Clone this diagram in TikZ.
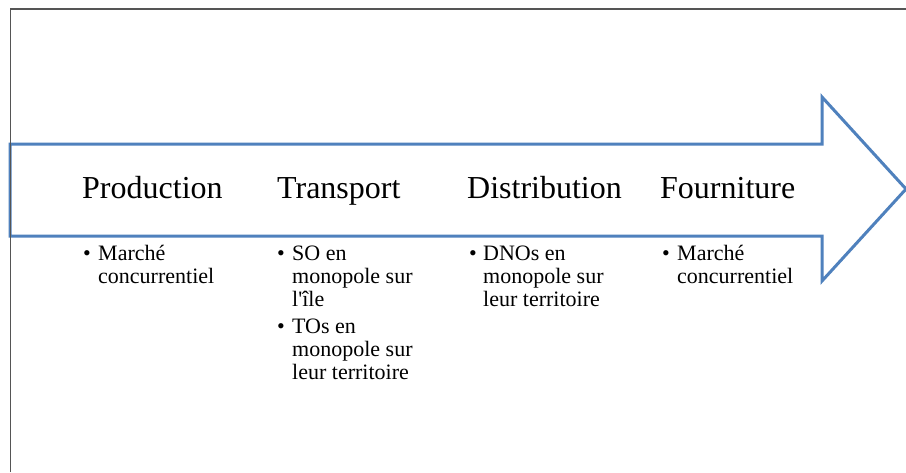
\documentclass[tikz,border=0pt]{standalone}
\usepackage{fontspec}
\setmainfont{Liberation Serif}[Ligatures=TeXOff]
\definecolor{arrowblue}{HTML}{4F81BD}
\definecolor{framegrey}{HTML}{555555}
\begin{document}
\begin{tikzpicture}[x=1pt,y=-1pt,
  head/.style={anchor=base west, inner sep=0pt, font=\fontsize{32}{36}\selectfont},
  item/.style={anchor=base west, inner sep=0pt, align=left, font=\fontsize{22}{23}\selectfont},
  dot/.style={anchor=base west, inner sep=0pt, font=\fontsize{22}{23}\selectfont}]
\useasboundingbox (0,0) rectangle (906,472);
\fill[white] (0,0) rectangle (906,472);
% arrow
\draw[arrowblue, line width=3pt, line join=miter]
  (10,144) -- (822,144) -- (822,97) -- (906,189) -- (822,281) -- (822,236) -- (10,236) -- cycle;
% frame
\draw[framegrey, line width=1.6pt] (10.5,472) -- (10.5,9) -- (906,9);
% headings
\node[head] (h1) at (82,198) {Production};
\node[head] (h2) at (277,198) {Transport};
\node[head] (h3) at (467,198) {Distribution};
\node[head] (h4) at (660,198) {Fourniture};
% bullets (base anchor = last line)
\node[dot] (d1) at (83,260) {•};
\node[item] (t1) at (98,283) {Marché\\concurrentiel};
\node[dot] (d2) at (277,260) {•};
\node[item] (t2) at (292,306) {SO en\\monopole sur\\l'île};
\node[dot] (d3) at (277,333) {•};
\node[item] (t3) at (292,379) {TOs en\\monopole sur\\leur territoire};
\node[dot] (d4) at (469,260) {•};
\node[item] (t4) at (483,306) {DNOs en\\monopole sur\\leur territoire};
\node[dot] (d5) at (662,260) {•};
\node[item] (t5) at (677,283) {Marché\\concurrentiel};
\end{tikzpicture}
\end{document}
